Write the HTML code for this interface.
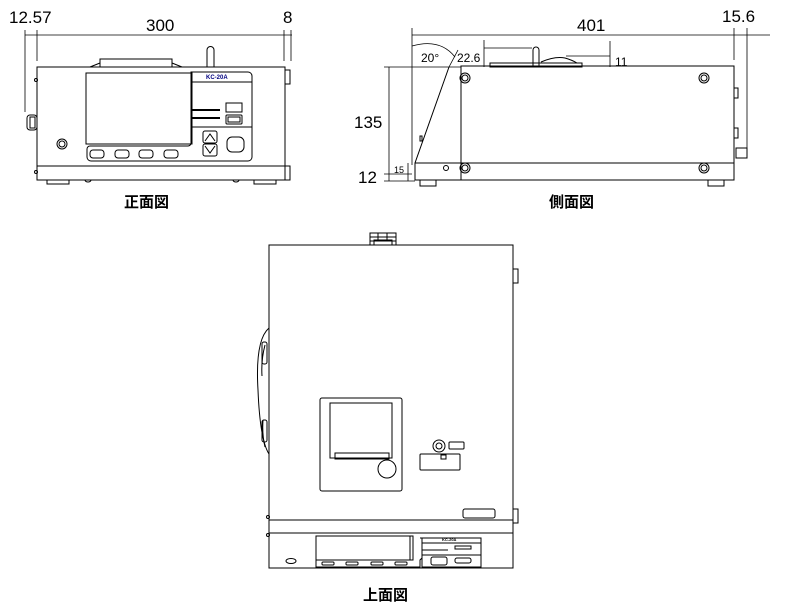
<!DOCTYPE html>
<html><head><meta charset="utf-8"><style>
html,body{margin:0;padding:0;background:#fff;}
svg{display:block;font-family:"Liberation Sans",Arial,sans-serif;}
.j{font-family:"Liberation Sans","Noto Sans CJK JP",sans-serif;font-weight:bold;font-size:15px;}
</style></head><body>
<svg width="785" height="610" viewBox="0 0 785 610" xmlns="http://www.w3.org/2000/svg">
<g fill="none" stroke="#000" stroke-width="1">
<!-- FRONT VIEW -->
<line x1="25" y1="35" x2="292" y2="35" stroke-width="0.8"/>
<line x1="25" y1="30" x2="25" y2="112" stroke-width="0.8"/>
<line x1="37" y1="30" x2="37" y2="61" stroke-width="0.8"/>
<line x1="284" y1="30" x2="284" y2="61" stroke-width="0.8"/>
<line x1="291" y1="30" x2="291" y2="61" stroke-width="0.8"/>
<rect x="37" y="67" width="248" height="113"/>
<line x1="37" y1="166" x2="285" y2="166"/>
<rect x="100" y="59" width="72" height="8"/>
<path d="M90 67 L100 63 M172 63 L182 67"/>
<path d="M207 67 V50 a3.5 3.5 0 0 1 7 0 V67"/>
<rect x="86" y="73" width="106" height="71"/>
<path d="M191 72 H248 a4 4 0 0 1 4 4 V157 a4 4 0 0 1 -4 4 H91 a4 4 0 0 1 -4 -4 V149 a3 3 0 0 1 3 -3 H188 a3 3 0 0 0 3 -3 Z"/>
<line x1="191" y1="82" x2="252" y2="82"/>
<line x1="191" y1="127" x2="252" y2="127"/>
<line x1="191" y1="110" x2="220" y2="110" stroke-width="2"/>
<line x1="191" y1="118" x2="220" y2="118" stroke-width="2"/>
<rect x="226" y="103" width="16" height="9"/>
<rect x="226" y="115" width="16" height="9" rx="1"/><rect x="228" y="117" width="12" height="5"/>
<rect x="203" y="131" width="14" height="12" rx="2"/><rect x="203" y="144" width="14" height="12" rx="2"/>
<path d="M205 141 L210 134 L215 141 M205 146 L210 153 L215 146"/>
<rect x="227" y="137" width="17" height="15" rx="5"/>
<rect x="90" y="150" width="14" height="8" rx="3"/><rect x="115" y="150" width="14" height="8" rx="3"/>
<rect x="139" y="150" width="14" height="8" rx="3"/><rect x="164" y="150" width="14" height="8" rx="3"/>
<circle cx="62" cy="144" r="5"/><circle cx="62" cy="144" r="3"/>
<rect x="27" y="115" width="10" height="15" rx="3"/><rect x="30" y="117" width="5" height="11"/>
<rect x="285" y="70" width="5" height="14"/><rect x="285" y="166" width="5" height="14"/>
<rect x="47" y="180" width="22" height="4"/><rect x="254" y="180" width="22" height="4"/>
<path d="M85 180 a3 2 0 0 0 6 0 M233 180 a3 2 0 0 0 6 0"/>
<circle cx="36" cy="80" r="1.5"/><circle cx="36" cy="172" r="1.5"/>

<!-- SIDE VIEW -->
<line x1="412" y1="35" x2="770" y2="35" stroke-width="0.8"/>
<line x1="412" y1="28" x2="412" y2="165" stroke-width="0.8"/>
<line x1="734" y1="28" x2="734" y2="60" stroke-width="0.8"/>
<line x1="747" y1="28" x2="747" y2="150" stroke-width="0.8"/>
<line x1="384" y1="67" x2="461" y2="67" stroke-width="0.8"/>
<line x1="389" y1="67" x2="389" y2="181" stroke-width="0.8"/>
<line x1="384" y1="174" x2="412" y2="174" stroke-width="0.8"/>
<line x1="384" y1="181" x2="415" y2="181" stroke-width="0.8"/>
<line x1="408" y1="163" x2="408" y2="181" stroke-width="0.8"/>
<line x1="484" y1="40" x2="484" y2="67" stroke-width="0.8"/>
<line x1="610" y1="41" x2="610" y2="67" stroke-width="0.8"/>
<line x1="484" y1="48" x2="532" y2="48" stroke-width="0.8"/>
<line x1="566" y1="56" x2="610" y2="56" stroke-width="0.8"/>
<path d="M412 46 Q440 38 455 57" stroke-width="0.8"/>
<path d="M458 50 L449 67" stroke-width="0.8"/>
<rect x="461" y="66" width="273" height="114"/>
<line x1="461" y1="163" x2="734" y2="163"/>
<path d="M449 67 L415 163 V180 H461"/>
<line x1="415" y1="163" x2="461" y2="163"/>
<rect x="490" y="63" width="92" height="4"/>
<path d="M533 67 V50 a3 3 0 0 1 6 0 V67"/>
<path d="M541 62 Q555 56 565 58 Q572 60 577 63"/>
<rect x="420" y="180" width="16" height="6"/><rect x="708" y="180" width="16" height="6"/>
<circle cx="465" cy="78" r="5"/><circle cx="465" cy="78" r="3"/>
<circle cx="704" cy="78" r="5"/><circle cx="704" cy="78" r="3"/>
<circle cx="465" cy="168" r="5"/><circle cx="465" cy="168" r="3"/>
<circle cx="704" cy="168" r="5"/><circle cx="704" cy="168" r="3"/>
<circle cx="446" cy="168" r="2.5"/>
<rect x="420" y="136" width="2" height="5"/>
<rect x="734" y="88" width="4" height="10"/><rect x="734" y="128" width="4" height="10"/>
<rect x="736" y="148" width="11" height="10"/>

<!-- TOP VIEW -->
<rect x="269" y="245" width="244" height="323"/>
<line x1="269" y1="520" x2="513" y2="520"/>
<line x1="269" y1="533" x2="513" y2="533"/>
<rect x="370" y="233" width="26" height="12"/>
<path d="M370 237 H396 M370 241 H396 M378 233 V241 M387 233 V241 M374 245 V240 H392 V245"/>
<path d="M269 328 Q255 340 258 390 Q260 440 269 454"/>
<path d="M265 345 Q261 360 262 376 M263 420 Q262 435 265 447"/>
<rect x="262" y="342" width="5" height="22" rx="2"/><rect x="262" y="420" width="5" height="22" rx="2"/>
<rect x="513" y="269" width="5" height="14"/><rect x="513" y="509" width="5" height="14"/>
<rect x="320" y="398" width="82" height="93" rx="2"/>
<rect x="330" y="403" width="62" height="55"/>
<rect x="335" y="453" width="54" height="6"/>
<circle cx="387" cy="469" r="9"/>
<circle cx="439" cy="446" r="6"/><circle cx="439" cy="446" r="3"/>
<rect x="449" y="442" width="15" height="7" rx="1"/>
<rect x="420" y="454" width="40" height="16" rx="1"/>
<rect x="441" y="455" width="5" height="4"/>
<rect x="463" y="509" width="32" height="9" rx="2"/>
<rect x="316" y="536" width="97" height="24"/>
<line x1="410" y1="536" x2="410" y2="560"/>
<path d="M316 560 V567 H420 V560 L422 558"/>
<rect x="322" y="562" width="12" height="3" rx="1"/><rect x="346" y="562" width="12" height="3" rx="1"/>
<rect x="371" y="562" width="12" height="3" rx="1"/><rect x="395" y="562" width="12" height="3" rx="1"/>
<path d="M420 538 H481 V567 H422 V538"/>
<line x1="422" y1="543" x2="481" y2="543"/>
<line x1="422" y1="555" x2="481" y2="555"/>
<line x1="422" y1="550" x2="448" y2="550"/>
<rect x="455" y="546" width="16" height="3"/>
<rect x="431" y="557" width="16" height="8" rx="2"/>
<rect x="455" y="558" width="16" height="5" rx="2"/>
<ellipse cx="291" cy="561" rx="5" ry="2.5"/>
<circle cx="268" cy="517" r="1.5"/><circle cx="268" cy="535" r="1.5"/>
</g>
<g fill="#000" font-size="17">
<text x="9" y="23">12.57</text>
<text x="146" y="31">300</text>
<text x="283" y="23">8</text>
<text x="577" y="31">401</text>
<text x="722" y="22">15.6</text>
<text x="354" y="128">135</text>
<text x="358" y="183">12</text>
</g>
<g fill="#000" font-size="12">
<text x="421" y="62">20°</text>
<text x="457" y="62">22.6</text>
<text x="615" y="66">11</text>
<text x="394" y="173" font-size="9">15</text>
<text x="206" y="79" font-size="6" font-weight="bold" fill="#000080">KC-20A</text>
<text x="442" y="541" font-size="4" font-weight="bold">KC-20A</text>
</g>
<text class="j" x="124" y="207">正面図</text>
<text class="j" x="549" y="207">側面図</text>
<text class="j" x="363" y="600">上面図</text>
</svg>
</body></html>
